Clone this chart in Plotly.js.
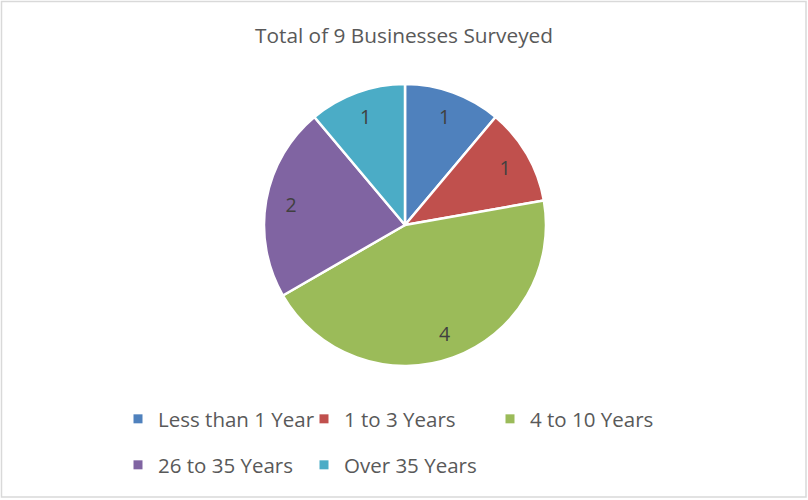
<!DOCTYPE html>
<html>
<head>
<meta charset="utf-8">
<script src="https://cdn.plot.ly/plotly-3.0.1.min.js"></script>
<style>
  html, body { margin: 0; padding: 0; background: #fff; }
  #chart { width: 808px; height: 500px; }
</style>
</head>
<body>
<div id="chart"></div>
<script>
// Years in business, count of surveyed businesses
const categories = ["Less than 1 Year", "1 to 3 Years", "4 to 10 Years", "26 to 35 Years", "Over 35 Years"];
const counts = [1, 1, 4, 2, 1];
const colors = ["#4F81BD", "#C0504D", "#9BBB59", "#8064A2", "#4BACC6"];
// which legend row each category sits in
const legendRow = ["legend", "legend", "legend", "legend2", "legend2"];

const FONT = "'Open Sans', Lato, sans-serif";
const pieDomain = { x: [264 / 808, 546 / 808], y: [1 - 366 / 500, 1 - 84 / 500] };

// coloured slices
const pie = {
  type: "pie",
  labels: categories,
  values: counts,
  sort: false,
  direction: "clockwise",
  rotation: 0,
  marker: { colors: colors, line: { color: "#ffffff", width: 2.5 } },
  textinfo: "none",
  hoverinfo: "label+value",
  showlegend: false,
  domain: pieDomain
};

// transparent ring carrying the value labels near the outer edge
const labelRing = {
  type: "pie",
  labels: categories,
  values: counts,
  sort: false,
  direction: "clockwise",
  rotation: 0,
  hole: 0.64,
  marker: { colors: categories.map(() => "rgba(0,0,0,0)"), line: { width: 0 } },
  textinfo: "value",
  textposition: "inside",
  insidetextorientation: "horizontal",
  textfont: { family: FONT, size: 19.5, color: "#404040" },
  hoverinfo: "skip",
  showlegend: false,
  domain: pieDomain
};

// small square legend keys, one per category
const keys = categories.map((name, i) => ({
  type: "scatter",
  mode: "markers",
  x: [null], y: [null],
  name: name,
  legend: legendRow[i],
  marker: { symbol: "square", size: 9, color: colors[i] },
  showlegend: true,
  hoverinfo: "skip"
}));

const legendStyle = {
  orientation: "h",
  xanchor: "left",
  yanchor: "middle",
  entrywidth: 141,
  entrywidthmode: "pixels",
  itemwidth: 30,
  bgcolor: "rgba(0,0,0,0)",
  font: { family: FONT, size: 20.5, color: "#595959" },
  itemclick: false,
  itemdoubleclick: false
};

const layout = {
  width: 808,
  height: 500,
  margin: { l: 0, r: 0, t: 0, b: 0 },
  paper_bgcolor: "#ffffff",
  plot_bgcolor: "#ffffff",
  title: {
    text: "Total of 9 Businesses Surveyed",
    font: { family: FONT, size: 20.8, color: "#595959" },
    x: 0.5, xanchor: "center",
    y: 1 - 36 / 500, yanchor: "middle", yref: "paper"
  },
  xaxis: { visible: false },
  yaxis: { visible: false },
  legend: Object.assign({}, legendStyle, { x: 118 / 808, y: 1 - 419 / 500 }),
  legend2: Object.assign({}, legendStyle, { x: 118 / 808, y: 1 - 465 / 500 }),
  shapes: [{
    type: "rect", xref: "paper", yref: "paper",
    x0: 1.5 / 808, x1: 806 / 808, y0: 1 - 497 / 500, y1: 1 - 1.5 / 500,
    line: { color: "#D9D9D9", width: 1.5 }, fillcolor: "rgba(0,0,0,0)"
  }]
};

Plotly.newPlot("chart", [pie, labelRing].concat(keys), layout, { displayModeBar: false, staticPlot: true });
</script>
</body>
</html>
